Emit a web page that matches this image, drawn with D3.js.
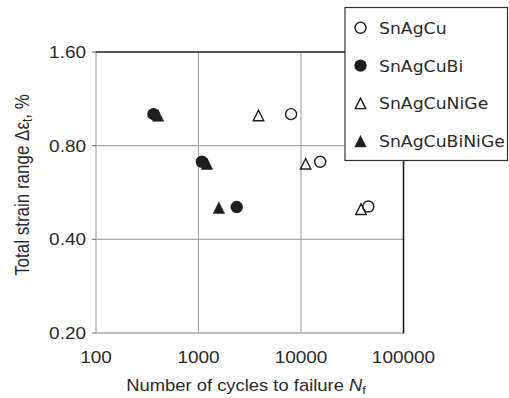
<!DOCTYPE html>
<html><head><meta charset="utf-8">
<script src="https://cdn.jsdelivr.net/npm/d3@7"></script>
<style>body{margin:0;background:#fff}svg{display:block}</style>
</head><body>
<svg id="c" width="509" height="398"></svg>
<script>
const seriesNames = ["SnAgCu", "SnAgCuBi", "SnAgCuNiGe", "SnAgCuBiNiGe"];
const seriesShapes = ["circle", "circle", "triangle", "triangle"];
const seriesFilled = [false, true, false, true];
const cyclesSnAgCu = [8000, 15400, 45400];
const strainSnAgCu = [1.01, 0.71, 0.51];
const cyclesSnAgCuBi = [364, 1080, 2360];
const strainSnAgCuBi = [1.01, 0.71, 0.508];
const cyclesSnAgCuNiGe = [3850, 11100, 38500];
const strainSnAgCuNiGe = [1.0, 0.70, 0.50];
const cyclesSnAgCuBiNiGe = [403, 1210, 1580];
const strainSnAgCuBiNiGe = [1.0, 0.70, 0.505];
const xTicks = [100, 1000, 10000, 100000];
const yTicks = [0.2, 0.4, 0.8, 1.6];
const yTickLabels = ["0.20", "0.40", "0.80", "1.60"];

const series = [
  {x: cyclesSnAgCu, y: strainSnAgCu},
  {x: cyclesSnAgCuBi, y: strainSnAgCuBi},
  {x: cyclesSnAgCuNiGe, y: strainSnAgCuNiGe},
  {x: cyclesSnAgCuBiNiGe, y: strainSnAgCuBiNiGe}
];

const svg = d3.select("#c");
const L = 96, R = 403.5, T = 52, B = 333;
const x = d3.scaleLog().domain([100, 100000]).range([L, R]);
const y = d3.scaleLog().base(2).domain([0.2, 1.6]).range([B, T]);
const SX = 1.15;
const dark = "#1e1e1e", grid = "#a8a8a8", textCol = "#2a2a2a";

// grid
svg.append("g").selectAll("line").data(xTicks.slice(1, -1)).join("line")
  .attr("x1", d => x(d)).attr("x2", d => x(d)).attr("y1", T).attr("y2", B)
  .attr("stroke", grid).attr("stroke-width", 1.2);
svg.append("g").selectAll("line").data(yTicks.slice(1, -1)).join("line")
  .attr("x1", L).attr("x2", R).attr("y1", d => y(d)).attr("y2", d => y(d))
  .attr("stroke", grid).attr("stroke-width", 1.2);
// left and bottom frame (gray)
svg.append("line").attr("x1", L).attr("x2", L).attr("y1", T).attr("y2", B).attr("stroke", grid).attr("stroke-width", 1.3);
svg.append("line").attr("x1", L).attr("x2", R).attr("y1", B).attr("y2", B).attr("stroke", grid).attr("stroke-width", 1.3);
// y ticks
svg.append("g").selectAll("line").data(yTicks).join("line")
  .attr("x1", L - 4).attr("x2", L).attr("y1", d => y(d)).attr("y2", d => y(d))
  .attr("stroke", "#666").attr("stroke-width", 1);
// top and right frame (dark)
svg.append("line").attr("x1", L).attr("x2", R + 0.8).attr("y1", T).attr("y2", T).attr("stroke", dark).attr("stroke-width", 1.6);
svg.append("line").attr("x1", R).attr("x2", R).attr("y1", T).attr("y2", B + 0.6).attr("stroke", dark).attr("stroke-width", 1.6);

function stretchedText(g, tx, ty, txt, size, anchor, family) {
  return g.append("text")
    .attr("transform", `translate(${tx},${ty}) scale(${SX},1)`)
    .attr("text-anchor", anchor).attr("font-size", size)
    .attr("font-family", family || "'Liberation Sans', Arial, sans-serif")
    .attr("fill", textCol).text(txt);
}
// tick labels
yTicks.forEach((t, i) => stretchedText(svg, 86, y(t) + 6, yTickLabels[i], 16.5, "end"));
xTicks.forEach(t => stretchedText(svg, x(t), 363, d3.format("d")(t), 16.5, "middle"));

// axis titles
const xt = svg.append("text")
  .attr("transform", `translate(246,391) scale(${SX},1)`)
  .attr("text-anchor", "middle").attr("font-size", 16)
  .attr("font-family", "'Liberation Sans', Arial, sans-serif").attr("fill", textCol);
xt.append("tspan").text("Number of cycles to failure  ");
xt.append("tspan").attr("font-style", "italic").text("N");
xt.append("tspan").attr("font-size", 11).attr("dy", 3).text("f");

const yt = svg.append("text")
  .attr("transform", `translate(28.5,185) rotate(-90) scale(1,${SX})`)
  .attr("text-anchor", "middle").attr("font-size", 17)
  .attr("font-family", "'Liberation Sans', Arial, sans-serif").attr("fill", textCol);
yt.append("tspan").text("Total strain range Δε");
yt.append("tspan").attr("font-size", 12).attr("dy", 3).text("t");
yt.append("tspan").attr("dy", -3).text(", %");

function triPath(cx, cy, w, h) {
  return `M${cx},${cy - h / 2}L${cx + w / 2},${cy + h / 2}L${cx - w / 2},${cy + h / 2}Z`;
}
function drawMarker(g, shape, filled, cx, cy) {
  if (shape === "circle") {
    g.append("circle").attr("cx", cx).attr("cy", cy).attr("r", filled ? 6.2 : 5.5)
      .attr("fill", filled ? dark : "#fff").attr("stroke", dark).attr("stroke-width", filled ? 0 : 1.4);
  } else {
    g.append("path").attr("d", triPath(cx, cy, filled ? 11.5 : 10.5, filled ? 11.5 : 10.5))
      .attr("fill", filled ? dark : "none").attr("stroke", dark).attr("stroke-width", filled ? 0.5 : 1.4)
      .attr("stroke-linejoin", "miter");
  }
}
const pts = svg.append("g");
series.forEach((s, i) => {
  s.x.forEach((xv, j) => drawMarker(pts, seriesShapes[i], seriesFilled[i], x(xv), y(s.y[j])));
});

// legend
const lg = svg.append("g");
lg.append("rect").attr("x", 345).attr("y", 7.5).attr("width", 162.5).attr("height", 153)
  .attr("fill", "#fff").attr("stroke", "#333").attr("stroke-width", 1.2);
seriesNames.forEach((n, i) => {
  const cy = 27.8 + i * 37.8;
  drawMarker(lg, seriesShapes[i], seriesFilled[i], 360.5, cy);
  stretchedText(lg, 379, cy + 6, n, 15, "start", "'DejaVu Sans', Verdana, sans-serif");
});
</script>
</body></html>
